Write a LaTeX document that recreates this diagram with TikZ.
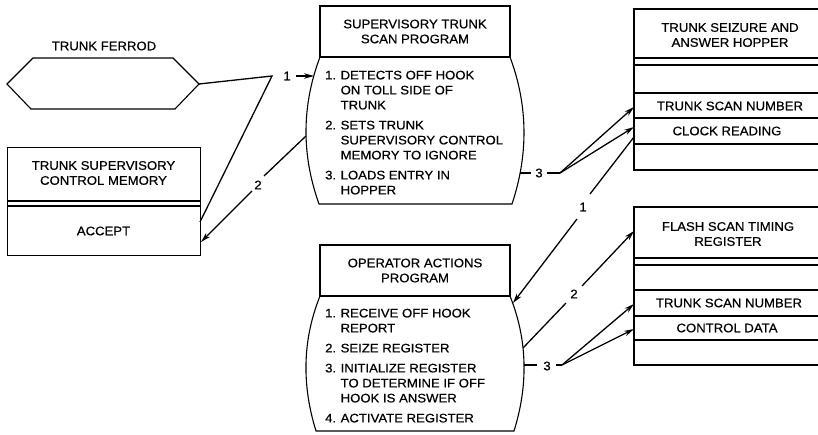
\documentclass[tikz,border=0pt]{standalone}
\usepackage{fontspec}
\setmainfont[FakeStretch=1.06,FakeBold=0.5]{Liberation Sans}
\usetikzlibrary{arrows.meta}
\begin{document}
\begin{tikzpicture}[x=1pt,y=-1pt,
  ln/.style={line width=1.1pt},
  conn/.style={line width=1.3pt},
  arr/.style={conn,-{Stealth[length=10pt,width=5.5pt]}},
  txt/.style={inner sep=0pt, font=\fontsize{12.4}{15}\selectfont, align=center},
  lst/.style={inner sep=0pt, font=\fontsize{12.4}{15}\selectfont, anchor=base west},
  num/.style={inner sep=0pt, font=\fontsize{12.4}{15}\selectfont},
  hdr/.style={draw, ln, txt, minimum width=190pt, minimum height=51pt}]
\useasboundingbox (0,0) rectangle (818,435);

% ---------- trunk ferrod ----------
\draw[ln] (7,84) -- (33,58) -- (173,58) -- (199,84) -- (175,109) -- (31,109) -- cycle;
\coordinate (hexR) at (199,84);
\node[txt] (ferrod) at (104,46) {TRUNK FERROD};

% ---------- trunk supervisory control memory ----------
\node[draw, ln, minimum width=193pt, minimum height=108pt, anchor=north west, inner sep=0pt] (mem) at (7,147) {};
\draw[ln] (7,201) -- (200,201);
\draw[ln] (7,206) -- (200,206);
\node[txt] (memtitle) at (103.5,173) {TRUNK SUPERVISORY\\CONTROL MEMORY};
\node[txt] (accept) at (103.5,231) {ACCEPT};
\coordinate (memA) at (200,222);
\coordinate (memB) at (201,242);

% ---------- supervisory trunk scan program ----------
\node[hdr] (stsp) at (415,31.5) {SUPERVISORY TRUNK\\SCAN PROGRAM};
\draw[ln] (320,57) .. controls (301.5,106) and (301.5,155) .. (319,204) -- (512,204)
  .. controls (528.3,155) and (528.3,106) .. (510,57);
\node[lst] (stsplist) at (325,79.4) {\begin{tabular}[t]{@{}l@{\hspace{4.5pt}}l@{}}
1. & DETECTS OFF HOOK\\ & ON TOLL SIDE OF\\ & TRUNK\\[5pt]
2. & SETS TRUNK\\ & SUPERVISORY CONTROL\\ & MEMORY TO IGNORE\\[5pt]
3. & LOADS ENTRY IN\\ & HOPPER\end{tabular}};

% ---------- operator actions program ----------
\node[hdr] (oap) at (415,270.5) {OPERATOR ACTIONS\\PROGRAM};
\draw[ln] (320,296) .. controls (302,341) and (302,386) .. (316,431) -- (514,431)
  .. controls (528,386) and (528,341) .. (510,296);
\node[lst] (oaplist) at (325,317.4) {\begin{tabular}[t]{@{}l@{\hspace{4.5pt}}l@{}}
1. & RECEIVE OFF HOOK\\ & REPORT\\[5pt]
2. & SEIZE REGISTER\\[5pt]
3. & INITIALIZE REGISTER\\ & TO DETERMINE IF OFF\\ & HOOK IS ANSWER\\[5pt]
4. & ACTIVATE REGISTER\end{tabular}};

% ---------- trunk seizure and answer hopper ----------
\draw[ln] (818,9) -- (634,9) -- (634,170) -- (818,170);
\foreach \yy in {58,65,93,118,144} \draw[ln] (634,\yy) -- (818,\yy);
\node[txt] (hoptitle) at (730,35) {TRUNK SEIZURE AND\\ANSWER HOPPER};
\node[txt] (hopsn) at (730,106) {TRUNK SCAN NUMBER};
\node[txt] (hopclk) at (727,131) {CLOCK READING};

% ---------- flash scan timing register ----------
\draw[ln] (818,207) -- (634,207) -- (634,365) -- (818,365);
\foreach \yy in {258,265,290,316,340} \draw[ln] (634,\yy) -- (818,\yy);
\node[txt] (fltitle) at (728,234) {FLASH SCAN TIMING\\REGISTER};
\node[txt] (flsn) at (729,303) {TRUNK SCAN NUMBER};
\node[txt] (flcd) at (727,328) {CONTROL DATA};

% ---------- connectors, upper left ----------
\coordinate (J1) at (272,76);
\draw[conn] (hexR) -- (J1) -- (memA);
\node[num] (n1a) at (287,76) {1};
\coordinate (a1s) at (296,76);
\coordinate (a1t) at (314,76);
\draw[arr] (a1s) -- (a1t);

\coordinate (b2s) at (306,136);
\coordinate (b2m) at (264,176);
\node[num] (n2a) at (258,185) {2};
\coordinate (b2n) at (252,191);
\draw[conn] (b2s) -- (b2m);
\draw[arr] (b2n) -- (memB);

% ---------- connectors, upper right ----------
\coordinate (c3s) at (520,173);
\coordinate (c3m) at (531,173);
\node[num] (n3a) at (539,173) {3};
\coordinate (c3n) at (547,173);
\coordinate (J3) at (560,173);
\coordinate (hopA) at (634,107);
\coordinate (hopB) at (634,127);
\draw[conn] (c3s) -- (c3m);
\draw[conn] (c3n) -- (J3);
\draw[arr] (J3) -- (hopA);
\draw[arr] (J3) -- (hopB);

% ---------- hopper to operator actions (1) ----------
\coordinate (d1s) at (634,137);
\coordinate (d1m) at (590,194);
\node[num] (n1b) at (583,207) {1};
\coordinate (d1n) at (577,219);
\coordinate (d1t) at (513,303);
\draw[conn] (d1s) -- (d1m);
\draw[arr] (d1n) -- (d1t);

% ---------- operator actions to flash register (2) ----------
\coordinate (e2s) at (523,348);
\coordinate (e2m) at (566,303);
\node[num] (n2b) at (574,294) {2};
\coordinate (e2n) at (582,286);
\coordinate (e2t) at (634,231);
\draw[conn] (e2s) -- (e2m);
\draw[arr] (e2n) -- (e2t);

% ---------- operator actions (3) ----------
\coordinate (f3s) at (524,365);
\coordinate (f3m) at (537,365);
\node[num] (n3b) at (547,366) {3};
\coordinate (f3n) at (556,365);
\coordinate (J4) at (562,365);
\coordinate (flA) at (634,304);
\coordinate (flB) at (634,329);
\draw[conn] (f3s) -- (f3m);
\draw[conn] (f3n) -- (J4);
\draw[arr] (J4) -- (flA);
\draw[arr] (J4) -- (flB);
\end{tikzpicture}
\end{document}
